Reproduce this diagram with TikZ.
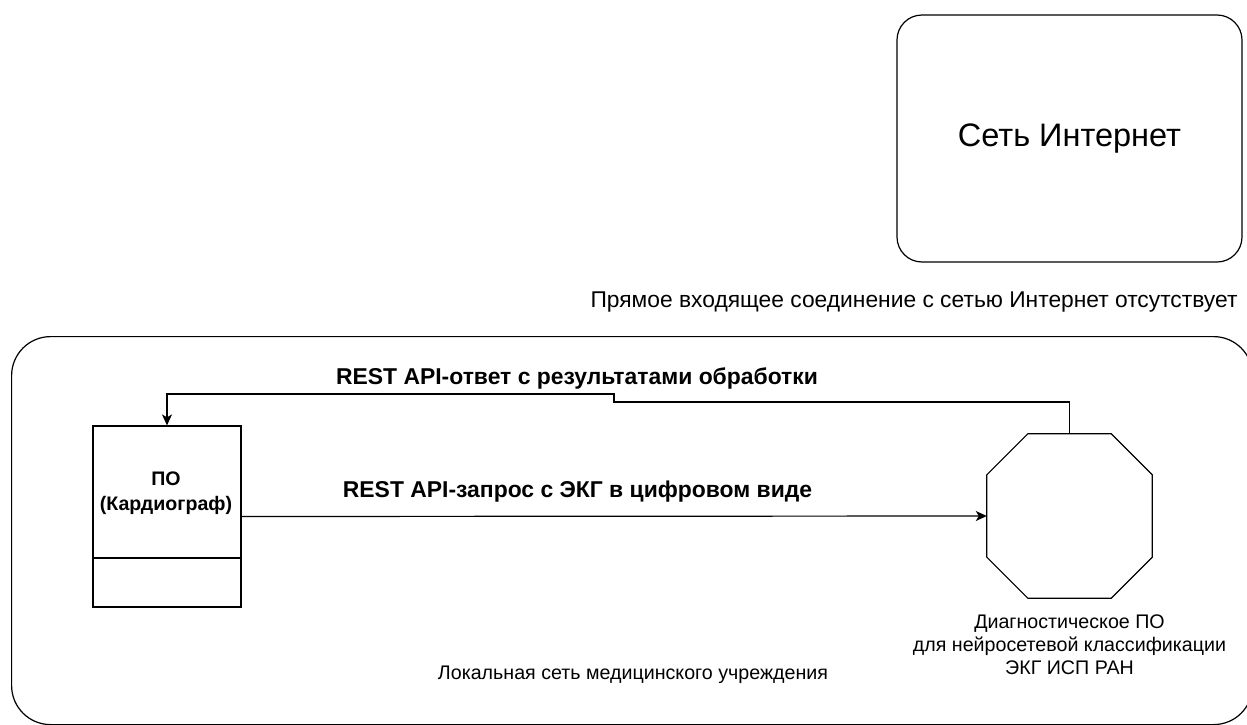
\documentclass[tikz,border=0pt]{standalone}
\usepackage{fontspec}
\setmainfont{Liberation Sans}
\usetikzlibrary{arrows.meta}
\tikzset{
  box/.style={draw, line width=1.2pt, inner sep=0pt},
  lbl/.style={inner sep=0pt, align=center, font=\fontsize{19.65}{23}\selectfont},
  blbl/.style={inner sep=0pt, align=center, font=\bfseries\fontsize{22.9}{26}\selectfont},
  conn/.style={line width=1.2pt, -{Stealth[length=11pt,width=10pt,inset=3pt]}},
}
\begin{document}
\begin{tikzpicture}[x=1pt,y=-1pt]
\useasboundingbox (0,0) rectangle (1247,725);
% local network
\node[box, rounded corners=39pt, minimum width=1241pt, minimum height=388pt, anchor=north west] (lan) at (11,336) {};
% internet
\node[box, rounded corners=25pt, minimum width=345pt, minimum height=247pt, font=\fontsize{32.5}{38}\selectfont] (inet) at (1069.5,138.5) {Сеть Интернет};
\node[lbl, font=\fontsize{22.8}{27}\selectfont] (nodirect) at (914,302) {Прямое входящее соединение с сетью Интернет отсутствует};
% cardiograph software
\node[box, minimum width=148pt, minimum height=181pt] (po) at (167,516.5) {};
\draw[line width=1.2pt] (po.west |- 0,558) -- (po.east |- 0,558);
\node[blbl, font=\bfseries\fontsize{19.6}{25}\selectfont] (potext) at (166,493) {ПО\\(Кардиограф)};
% diagnostic software (octagon)
\node[minimum width=165pt, minimum height=164pt, inner sep=0pt] (diag) at (1069.5,516) {};
\draw[line width=1.2pt] ([xshift=41pt]diag.north west) -- ([xshift=-41pt]diag.north east)
  -- ([yshift=-41pt]diag.north east) -- ([yshift=41pt]diag.south east)
  -- ([xshift=-41pt]diag.south east) -- ([xshift=41pt]diag.south west)
  -- ([yshift=41pt]diag.south west) -- ([yshift=-41pt]diag.north west) -- cycle;
\node[lbl] (diagtext) at (1069.5,645) {Диагностическое ПО\\для нейросетевой классификации\\ЭКГ ИСП РАН};
\node[lbl] (lantext) at (633,675) {Локальная сеть медицинского учреждения};
% connectors
\draw[conn] (po.east) -- (diag.west);
\node[blbl] (reqlbl) at (577.5,492) {REST API-запрос с ЭКГ в цифровом виде};
\coordinate (r1) at (1069.5,402);
\coordinate (r2) at (614,402);
\coordinate (r3) at (614,394);
\coordinate (r4) at (167,394);
\draw[conn] (diag.north) -- (r1) -- (r2) -- (r3) -- (r4) -- (po.north);
\node[blbl] (resplbl) at (577,378) {REST API-ответ с результатами обработки};
\end{tikzpicture}
\end{document}
